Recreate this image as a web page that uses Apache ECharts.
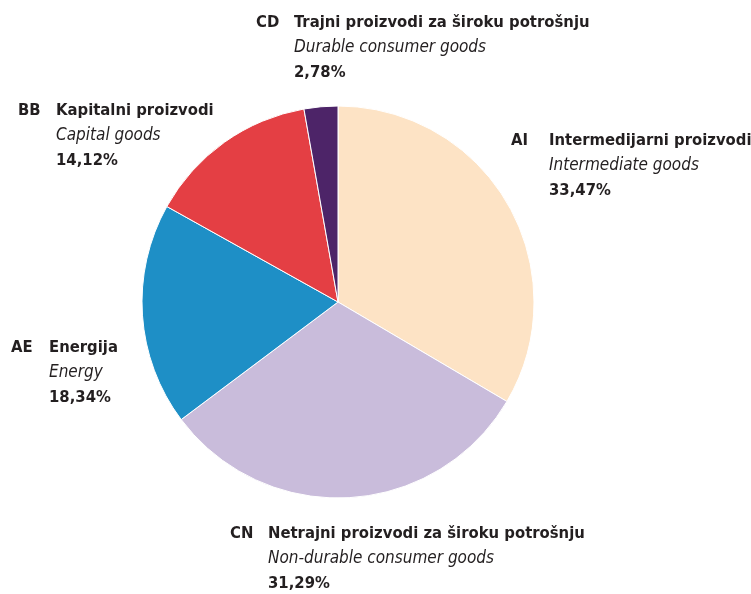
<!DOCTYPE html>
<html>
<head>
<meta charset="utf-8">
<script src="https://cdn.jsdelivr.net/npm/echarts@6/dist/echarts.min.js"></script>
<style>
  html, body { margin: 0; padding: 0; background: #fff; }
  #chart { width: 751px; height: 594px; }
</style>
</head>
<body>
<div id="chart"></div>
<script>
var codes = ['AI', 'CN', 'AE', 'BB', 'CD'];
var namesHr = ['Intermedijarni proizvodi', 'Netrajni proizvodi za široku potrošnju', 'Energija', 'Kapitalni proizvodi', 'Trajni proizvodi za široku potrošnju'];
var namesEn = ['Intermediate goods', 'Non-durable consumer goods', 'Energy', 'Capital goods', 'Durable consumer goods'];
var shares = [33.47, 31.29, 18.34, 14.12, 2.78];

var colors = ['#fde3c5', '#c9bcdb', '#1e8fc6', '#e43f44', '#4d2468'];
// top-left corner of each label block
var labelPos = {
  AI: [511, 128],
  CN: [230, 521],
  AE: [11, 335],
  BB: [18, 98],
  CD: [256, 10]
};

var font = '"Liberation Sans Narrow", "DejaVu Sans Condensed", sans-serif';

var chart = echarts.init(document.getElementById('chart'));

var data = shares.map(function (v, i) {
  return { value: v, name: codes[i], itemStyle: { color: colors[i] } };
});

chart.setOption({
  animation: false,
  series: [{
    type: 'pie',
    center: [338, 302],
    radius: 196,
    startAngle: 90,
    clockwise: true,
    data: data,
    itemStyle: { borderColor: '#fff', borderWidth: 1 },
    labelLine: { show: false },
    label: {
      show: true,
      position: 'outside',
      overflow: 'none',
      width: 500,
      fontFamily: font,
      formatter: function (p) {
        var i = p.dataIndex;
        return '{code|' + codes[i] + '}{name|' + namesHr[i] + '}\n' +
          '{sp| }{en|' + namesEn[i] + '}\n' +
          '{sp| }{pct|' + shares[i].toFixed(2).replace('.', ',') + '%}';
      },
      rich: {
        code: { width: 38, fontSize: 16.5, fontWeight: 'bold', color: '#231f20', fontFamily: font, lineHeight: 25 },
        name: { fontSize: 16.5, fontWeight: 'bold', color: '#231f20', fontFamily: font, lineHeight: 25 },
        sp: { width: 38, fontSize: 16.5, lineHeight: 25 },
        en: { fontSize: 17, fontStyle: 'italic', color: '#231f20', fontFamily: font, lineHeight: 25 },
        pct: { fontSize: 16.5, fontWeight: 'bold', color: '#231f20', fontFamily: font, lineHeight: 25 }
      }
    },
    labelLayout: function (p) {
      var pos = labelPos[codes[p.dataIndex]];
      return { x: pos[0], y: pos[1], align: 'left', verticalAlign: 'top' };
    }
  }]
});
</script>
</body>
</html>
